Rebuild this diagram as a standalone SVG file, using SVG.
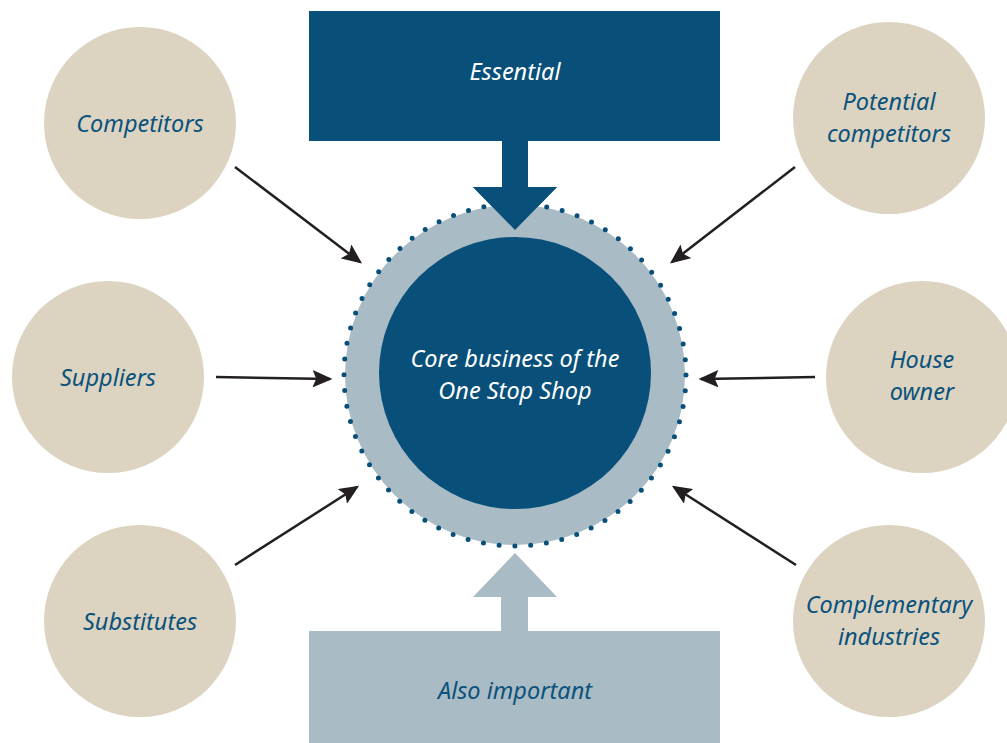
<svg xmlns="http://www.w3.org/2000/svg" width="1007" height="743" viewBox="0 0 1007 743">
<defs>
<style>
.beige{fill:#dcd4c1}
.lbl{font-family:"Noto Sans","Open Sans",sans-serif;font-style:italic;font-size:23.5px;fill:#0b527c;text-anchor:middle}
.wlbl{font-family:"Noto Sans","Open Sans",sans-serif;font-style:italic;font-size:23.5px;fill:#ffffff;text-anchor:middle}
.conn{stroke:#231f20;stroke-width:2.5;fill:none;marker-end:url(#ah)}
</style>
<marker id="ah" markerWidth="8" markerHeight="7" refX="7" refY="3.5" orient="auto" markerUnits="strokeWidth">
<path d="M0,0 L8,3.5 L0,7 L1.5,3.5 Z" fill="#231f20"/>
</marker>
</defs>
<rect width="1007" height="743" fill="#ffffff"/>

<g id="essential">
<rect x="309" y="11" width="411" height="130" fill="#08507a"/>
<polygon points="502,141 528,141 528,187 557,187 515,230 473,187 502,187" fill="#08507a"/>
<text class="wlbl" x="515" y="80">Essential</text>
</g>

<g id="also-important">
<rect x="309" y="631" width="411" height="112" fill="#a9bbc4"/>
<polygon points="501,631 528,631 528,597 557,597 515,553 473,597 501,597" fill="#a9bbc4"/>
<text class="lbl" x="515" y="699">Also important</text>
</g>

<g id="core">
<circle cx="515" cy="375" r="170" fill="#a9bbc4"/>
<circle cx="515" cy="375" r="171" fill="none" stroke="#08507a" stroke-width="5" stroke-linecap="round" stroke-dasharray="0 15.8"/>
<circle cx="515" cy="373" r="136" fill="#08507a"/>
<text class="wlbl" x="515" y="367">Core business of the</text>
<text class="wlbl" x="515" y="399">One Stop Shop</text>
</g>
<polygon points="473,187 557,187 515,230" fill="#08507a"/>

<g id="competitors">
<circle class="beige" cx="140" cy="123" r="96"/>
<text class="lbl" x="140" y="132">Competitors</text>
</g>
<g id="suppliers">
<circle class="beige" cx="108" cy="377" r="96"/>
<text class="lbl" x="108" y="386">Suppliers</text>
</g>
<g id="substitutes">
<circle class="beige" cx="140" cy="621" r="96"/>
<text class="lbl" x="140" y="630">Substitutes</text>
</g>
<g id="potential-competitors">
<circle class="beige" cx="889" cy="118" r="96"/>
<text class="lbl" x="889" y="110">Potential</text>
<text class="lbl" x="889" y="142">competitors</text>
</g>
<g id="house-owner">
<circle class="beige" cx="922" cy="377" r="96"/>
<text class="lbl" x="922" y="368">House</text>
<text class="lbl" x="922" y="400">owner</text>
</g>
<g id="complementary-industries">
<circle class="beige" cx="889" cy="621" r="96"/>
<text class="lbl" x="889" y="613">Complementary</text>
<text class="lbl" x="889" y="645">industries</text>
</g>

<g id="connectors">
<line class="conn" x1="235" y1="167" x2="360" y2="262"/>
<line class="conn" x1="795" y1="167" x2="672" y2="262"/>
<line class="conn" x1="216" y1="377" x2="330" y2="379"/>
<line class="conn" x1="815" y1="377" x2="701" y2="379"/>
<line class="conn" x1="235" y1="565" x2="357" y2="487"/>
<line class="conn" x1="796" y1="565" x2="674" y2="487"/>
</g>
</svg>
